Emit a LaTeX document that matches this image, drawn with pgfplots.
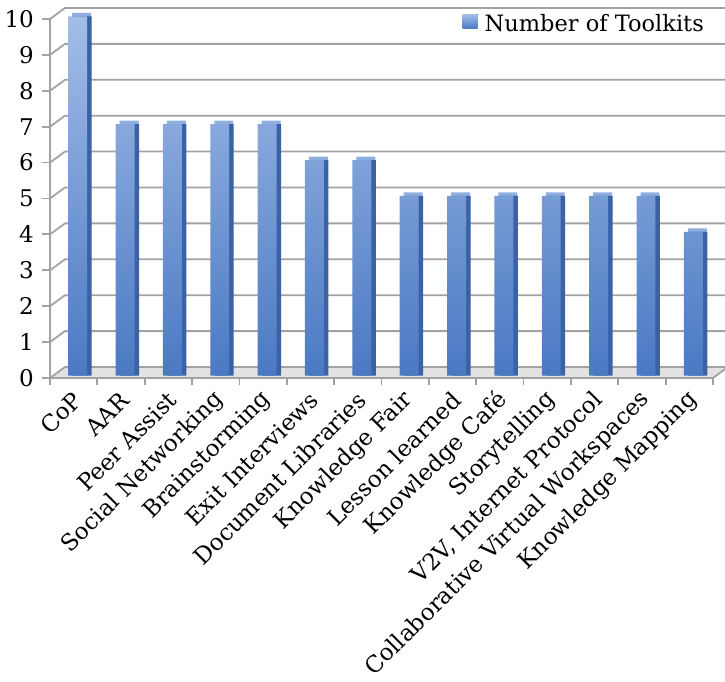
\documentclass[border=0pt]{standalone}
\usepackage{fontspec}
\setmainfont{DejaVu Serif}
\usepackage{pgfplots}
\pgfplotsset{compat=1.18}
\definecolor{barTop}{HTML}{A3BDE8}
\definecolor{barBot}{HTML}{4A79C3}
\definecolor{barSide}{HTML}{3A62A4}
\definecolor{barCap}{HTML}{8FAEE0}
\definecolor{gridc}{HTML}{A2A2A2}
\definecolor{floorc}{HTML}{E2E2E2}
\begin{document}
\begin{tikzpicture}
\begin{axis}[
  scale only axis, width=663pt, height=359pt,
  xmin=-0.5, xmax=13.5, ymin=0, ymax=10,
  clip=false,
  axis line style={draw=none},
  major tick length=0pt,
  ytick={0,...,10},
  xtick={0,...,13},
  xticklabels={CoP, AAR, Peer Assist, Social Networking, Brainstorming, Exit Interviews, Document Libraries, Knowledge Fair, Lesson learned, Knowledge Café, Storytelling, {V2V, Internet Protocol}, Collaborative Virtual Workspaces, Knowledge Mapping},
  /pgf/number format/assume math mode=true,
  tick label style={font=\fontsize{23}{26}\selectfont},
  xticklabel style={xshift=4pt, yshift=-18pt, rotate=45, anchor=east, inner sep=0pt},
  yticklabel style={anchor=east, xshift=-16pt, inner sep=0pt},
  bar width=0.4,
  legend style={at={(1,1)}, anchor=east, xshift=-7pt, yshift=-5pt, draw=none, fill=none, inner sep=0pt,
    font=\fontsize{22.5}{26}\selectfont},
  legend image code/.code={\fill[top color=barTop, bottom color=barBot] (0pt,-7pt) rectangle (15pt,7pt);},
]
% floor
\fill[floorc] (axis cs:-0.5,0) -- (axis cs:13.5,0) -- ++(15pt,11pt) -- ([shift={(15pt,11pt)}]axis cs:-0.5,0) -- cycle;
% back wall grid and left wall diagonals
\pgfplotsinvokeforeach{0,...,10}{
  \draw[gridc, line width=1.8pt] (axis cs:-0.5,#1) -- ++(15pt,11pt) -- ([shift={(30pt,11pt)}]axis cs:13.5,#1);
  \draw[gridc, line width=1.8pt] (axis cs:-0.5,#1) -- ++(-8pt,0pt);
}
\draw[gridc, line width=1.8pt] (axis cs:-0.5,0) -- (axis cs:-0.5,10);
\draw[gridc, line width=1.8pt] (axis cs:-0.5,0) -- (axis cs:13.5,0) -- ++(15pt,11pt);
\pgfplotsinvokeforeach{-0.5,0.5,...,13.5}{
  \draw[gridc, line width=1.8pt] (axis cs:#1,0) -- ++(0pt,-7pt);
}
% top caps of bars
\addplot[ybar, forget plot, draw=none, fill=barCap, bar shift=8pt, yshift=6pt]
  coordinates {(0,10) (1,7) (2,7) (3,7) (4,7) (5,6) (6,6) (7,5) (8,5) (9,5) (10,5) (11,5) (12,5) (13,4)};
% sides of bars
\addplot[ybar, forget plot, draw=none, fill=barSide, bar shift=8.5pt, yshift=2.5pt]
  coordinates {(0,10) (1,7) (2,7) (3,7) (4,7) (5,6) (6,6) (7,5) (8,5) (9,5) (10,5) (11,5) (12,5) (13,4)};
% front faces
\addplot[ybar, draw=none, top color=barTop, bottom color=barBot, bar shift=4pt, yshift=2.5pt]
  coordinates {(0,10) (1,7) (2,7) (3,7) (4,7) (5,6) (6,6) (7,5) (8,5) (9,5) (10,5) (11,5) (12,5) (13,4)};
\addlegendentry{\hspace{5pt}Number of Toolkits}
\end{axis}
\pgfresetboundingbox
\path[use as bounding box] ([shift={(-50pt,-304pt)}]current axis.south west) rectangle ([shift={(675pt,378pt)}]current axis.south west);
\end{tikzpicture}
\end{document}
